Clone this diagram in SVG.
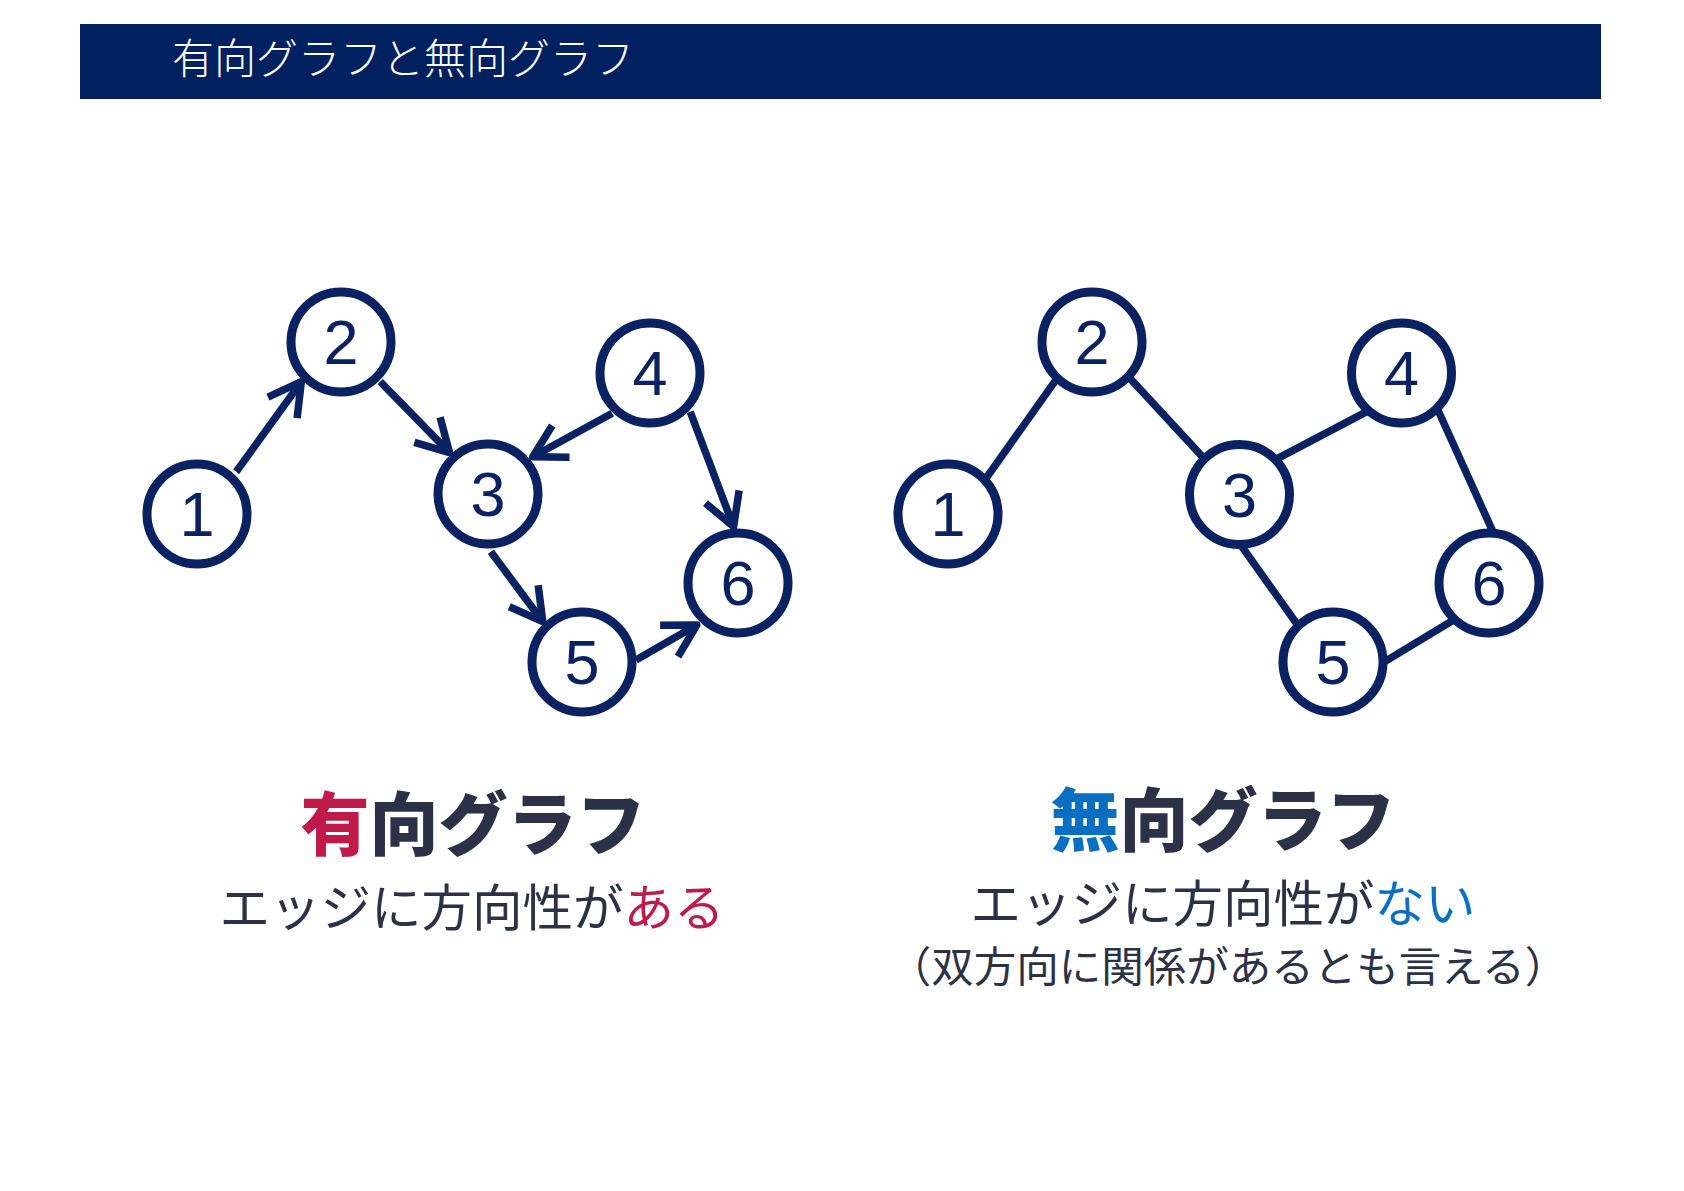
<svg xmlns="http://www.w3.org/2000/svg" width="1684" height="1191" viewBox="0 0 1684 1191">
<style>
.node circle{fill:#fff;stroke:#0a2262;stroke-width:9}
.node text{font-family:"Liberation Sans",Arial,sans-serif;font-size:63px;fill:#0a2262;text-anchor:middle}
.edge{stroke:#0a2262;stroke-width:7.5;fill:none}
.jp{font-family:"Noto Sans CJK JP","Noto Sans",sans-serif;text-anchor:middle;fill:#2b3147}
.red{fill:#c01a4b}
.blue{fill:#0a6fc0}
</style>
<defs>
<marker id="arr" markerUnits="userSpaceOnUse" markerWidth="80" markerHeight="80" refX="0" refY="0" orient="auto" overflow="visible" viewBox="-40 -40 80 80">
<path d="M-32,-18 L0,0 L-32,18" fill="none" stroke="#0a2262" stroke-width="7.5" stroke-linejoin="round"/>
</marker>
</defs>
<rect x="80" y="24" width="1521" height="75" fill="#00205f"/>
<text x="172" y="74" font-family="Noto Sans CJK JP,sans-serif" font-weight="300" font-size="42" fill="#fff">有向グラフと無向グラフ</text>

<g id="connectors">
<line class="edge" x1="236.2" y1="471.7" x2="301.3" y2="381.7" marker-end="url(#arr)"/>
<line class="edge" x1="380.2" y1="381.7" x2="449.6" y2="452.7" marker-end="url(#arr)"/>
<line class="edge" x1="612.2" y1="413.3" x2="532.8" y2="456.7" marker-end="url(#arr)"/>
<line class="edge" x1="690.2" y1="411.7" x2="733.6" y2="526.7" marker-end="url(#arr)"/>
<line class="edge" x1="490.8" y1="551.7" x2="542.8" y2="621.7" marker-end="url(#arr)"/>
<line class="edge" x1="636" y1="660" x2="696.8" y2="625" marker-end="url(#arr)"/>

<line class="edge" x1="983.8" y1="481.5" x2="1058.1" y2="376.8"/>
<line class="edge" x1="1126.1" y1="374.1" x2="1206.3" y2="460.9"/>
<line class="edge" x1="1274" y1="460.4" x2="1370.6" y2="409.6"/>
<line class="edge" x1="1436.1" y1="406" x2="1494.7" y2="535.6"/>
<line class="edge" x1="1239.7" y1="543.5" x2="1298.7" y2="626.5"/>
<line class="edge" x1="1380.6" y1="664.1" x2="1454.8" y2="619.2"/>
</g>

<g id="d1" class="node"><circle cx="197" cy="514" r="50"/><text x="197" y="536">1</text></g>
<g id="d2" class="node"><circle cx="341" cy="342" r="50"/><text x="341" y="364">2</text></g>
<g id="d3" class="node"><circle cx="488" cy="494" r="50"/><text x="488" y="516">3</text></g>
<g id="d4" class="node"><circle cx="650" cy="373" r="50"/><text x="650" y="395">4</text></g>
<g id="d5" class="node"><circle cx="582" cy="662" r="50"/><text x="582" y="684">5</text></g>
<g id="d6" class="node"><circle cx="738" cy="583" r="50"/><text x="738" y="605">6</text></g>

<g id="u1" class="node"><circle cx="948" cy="514" r="50"/><text x="948" y="536">1</text></g>
<g id="u2" class="node"><circle cx="1092" cy="342" r="50"/><text x="1092" y="364">2</text></g>
<g id="u3" class="node"><circle cx="1239.5" cy="494.5" r="50"/><text x="1239.5" y="516.5">3</text></g>
<g id="u4" class="node"><circle cx="1401.5" cy="373" r="50"/><text x="1401.5" y="395">4</text></g>
<g id="u5" class="node"><circle cx="1333" cy="662" r="50"/><text x="1333" y="684">5</text></g>
<g id="u6" class="node"><circle cx="1489" cy="583" r="50"/><text x="1489" y="605">6</text></g>

<text class="jp" x="473" y="850" font-size="69" font-weight="900"><tspan class="red">有</tspan>向グラフ</text>
<text class="jp" x="472" y="926" font-size="50.5">エッジに方向性が<tspan class="red">ある</tspan></text>

<text class="jp" x="1223" y="846" font-size="69" font-weight="900"><tspan class="blue">無</tspan>向グラフ</text>
<text class="jp" x="1223" y="922" font-size="50.5">エッジに方向性が<tspan class="blue">ない</tspan></text>
<text class="jp" x="1228" y="982" font-size="42.5">（双方向に関係があるとも言える）</text>
</svg>
